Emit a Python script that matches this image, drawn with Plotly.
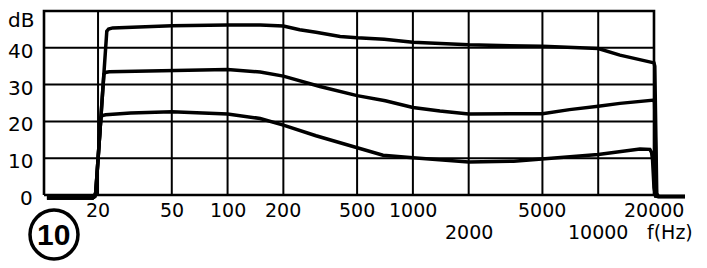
import math
import plotly.graph_objects as go

# ---------------- data ----------------
f_top = [10.6, 18.7, 19.2, 19.45, 22.3, 22.8, 24, 30, 50, 100, 150, 200, 245, 300, 405, 500, 700,
         1000, 2000, 5000, 10000, 13100, 20000, 20200, 20700, 21200, 29400]
db_top = [-0.8, -0.8, -0.4, 0.8, 44.5, 45.1, 45.4, 45.6, 46.0, 46.2, 46.2, 45.9, 44.9, 44.2, 43.1, 42.7, 42.3,
          41.5, 40.8, 40.4, 39.8, 38.0, 35.9, 35.0, 0.3, -0.4, -0.4]

f_mid = [10.6, 18.7, 19.2, 19.45, 21.5, 21.9, 23, 30, 50, 100, 150, 200, 315, 500, 710,
         1000, 1400, 2000, 5000, 7000, 10000, 13100, 20000, 20150, 20600, 21100, 29400]
db_mid = [-0.8, -0.8, -0.4, 0.8, 32.8, 33.3, 33.5, 33.6, 34.0, 34.1, 33.4, 32.3, 29.5, 27.0, 25.6,
          23.8, 22.8, 22.0, 22.1, 23.2, 24.1, 24.9, 25.8, 25.0, 0.3, -0.4, -0.4]

f_bot = [10.6, 18.7, 19.2, 19.45, 20.72, 21.1, 22, 30, 50, 100, 150, 200, 300, 500, 690,
         1000, 2000, 3500, 5000, 10000, 16800, 19000, 19400, 19650, 20000, 20400, 21000, 29400]
db_bot = [-0.8, -0.8, -0.4, 0.8, 21.0, 21.6, 21.8, 22.3, 22.6, 22.0, 20.8, 19.0, 16.1, 12.7, 10.8,
          10.1, 9.0, 9.2, 9.8, 11.0, 12.5, 12.4, 11.6, 9.5, 2.0, -0.3, -0.4, -0.4]

grid_freqs = [20, 50, 100, 200, 500, 1000, 2000, 5000, 10000]
frame_f = [10.22, 20000]
frame_db = [0, 50]
grid_db = [10, 20, 30, 40]
y_tick_vals = [0, 10, 20, 30, 40]
x_labels_top = [(20, "20"), (50, "50"), (100, "100"), (200, "200"), (500, "500"),
                (1000, "1000"), (5000, "5000"), (20000, "20000")]
x_labels_bottom = [(2000, "2000"), (10000, "10000")]

FONT = "DejaVu Sans"
W, H = 707, 268
L, R, T, B = 36, 5, 6, 63
PW, PH = W - L - R, H - T - B


def px(xp):
    return (xp - L) / PW


def py(yp):
    return (H - B - yp) / PH


fig = go.Figure()

# grid lines
gx, gy = [], []
for f in grid_freqs:
    gx += [f, f, None]
    gy += [frame_db[0], frame_db[1], None]
for d in grid_db:
    gx += [frame_f[0], frame_f[1], None]
    gy += [d, d, None]
fig.add_trace(go.Scatter(x=gx, y=gy, mode="lines", line=dict(color="black", width=2),
                         hoverinfo="skip", showlegend=False))
# frame
fig.add_trace(go.Scatter(x=[frame_f[0], frame_f[1], frame_f[1], frame_f[0], frame_f[0]],
                         y=[frame_db[0], frame_db[0], frame_db[1], frame_db[1], frame_db[0]],
                         mode="lines", line=dict(color="black", width=2.6),
                         hoverinfo="skip", showlegend=False))

for fx, dy in [(f_top, db_top), (f_mid, db_mid), (f_bot, db_bot)]:
    fig.add_trace(go.Scatter(x=fx, y=dy, mode="lines",
                             line=dict(color="black", width=3.5),
                             showlegend=False))

lab_font = dict(family=FONT, size=19, color="black")
ann = []
for v in y_tick_vals:
    ann.append(dict(x=math.log10(frame_f[0]), y=v, xref="x", yref="y", text=str(v),
                    showarrow=False, xanchor="right", yanchor="middle", xshift=-10, yshift=-3,
                    borderpad=0, font=dict(family=FONT, size=20, color="black")))
ann.append(dict(x=px(21), y=py(20), xref="paper", yref="paper", text="dB", showarrow=False,
                borderpad=0, xanchor="center", yanchor="middle",
                font=dict(family=FONT, size=20, color="black")))
for f, t in x_labels_top:
    ann.append(dict(x=math.log10(f), y=py(210), xref="x", yref="paper", text=t, showarrow=False,
                    borderpad=0, xanchor="center", yanchor="middle", font=lab_font))
for f, t in x_labels_bottom:
    ann.append(dict(x=math.log10(f), y=py(232), xref="x", yref="paper", text=t, showarrow=False,
                    borderpad=0, xanchor="center", yanchor="middle", font=lab_font))
ann.append(dict(x=px(670), y=py(232), xref="paper", yref="paper", text="f(Hz)", showarrow=False,
                borderpad=0, xanchor="center", yanchor="middle", font=lab_font))
ann.append(dict(x=px(53.5), y=py(234), xref="paper", yref="paper", text="<b>10</b>", showarrow=False,
                borderpad=0, xanchor="center", yanchor="middle",
                font=dict(family="Liberation Sans", size=30, color="black")))

shapes = [dict(type="circle", xref="paper", yref="paper", x0=px(30), x1=px(78), y0=py(259), y1=py(210),
               line=dict(color="black", width=3.5))]

x0 = math.log10(frame_f[0]) - (44 - L) / 185.3
x1 = math.log10(20000) + (W - R - 654) / 185.3
ppd = 184 / 50.0
y_top = 50 + (11 - T) / ppd
y_bot = 0 - ((H - B) - 195) / ppd

fig.update_layout(
    width=W, height=H,
    margin=dict(l=L, r=R, t=T, b=B, pad=0),
    paper_bgcolor="white", plot_bgcolor="white",
    xaxis=dict(type="log", range=[x0, x1], visible=False, showgrid=False, zeroline=False),
    yaxis=dict(range=[y_bot, y_top], visible=False, showgrid=False, zeroline=False),
    annotations=ann, shapes=shapes, showlegend=False,
)

fig.write_html("out.html")
